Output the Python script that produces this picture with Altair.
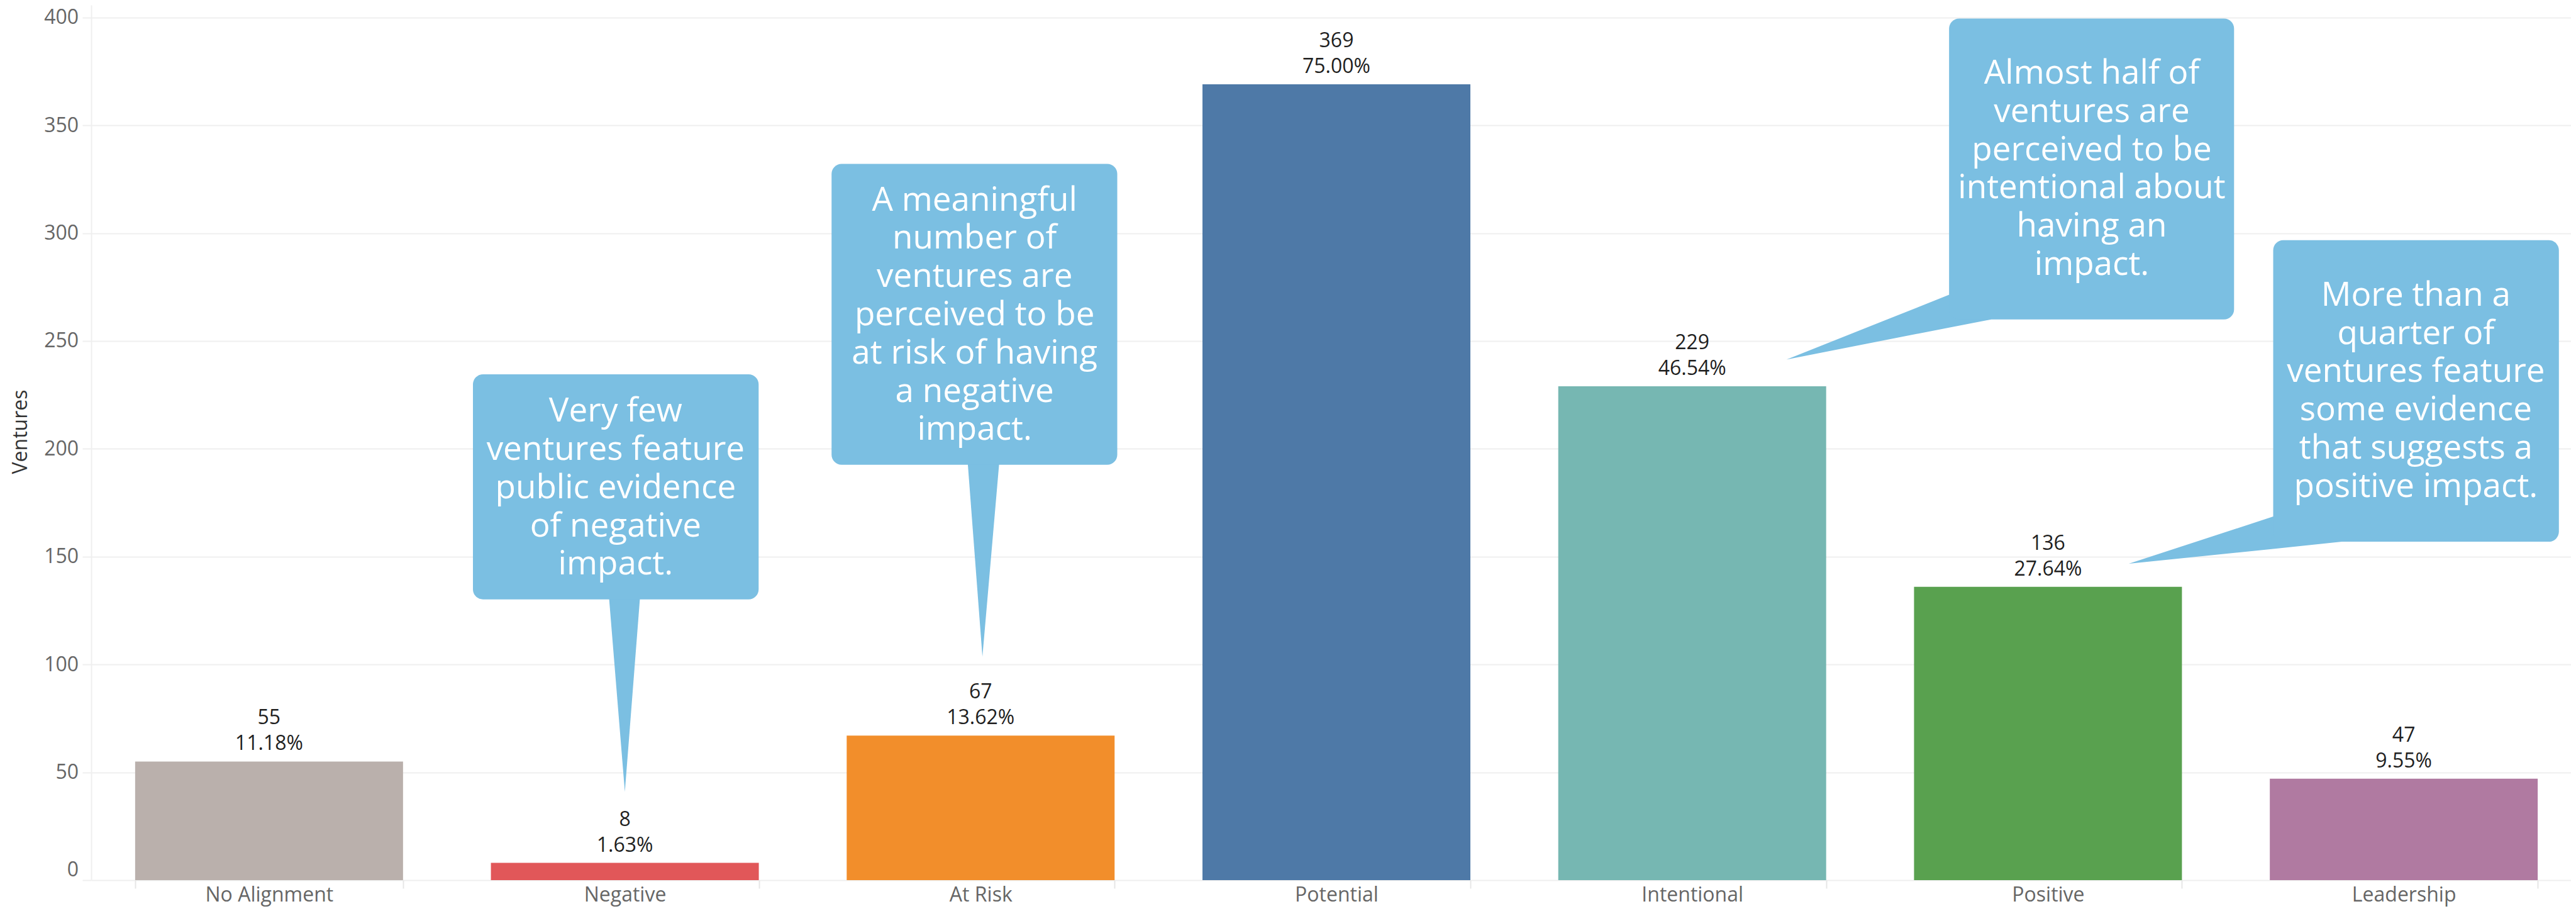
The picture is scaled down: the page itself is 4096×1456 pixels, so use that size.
import altair as alt
import pandas as pd

# ---------------- data ----------------
categories = ["No Alignment", "Negative", "At Risk", "Potential", "Intentional", "Positive", "Leadership"]
ventures = [55, 8, 67, 369, 229, 136, 47]
shares = ["11.18%", "1.63%", "13.62%", "75.00%", "46.54%", "27.64%", "9.55%"]
bar_colors = ["#BAB0AC", "#E15759", "#F28E2B", "#4E79A7", "#76B7B2", "#59A14F", "#B07AA1"]
y_ticks = [0, 50, 100, 150, 200, 250, 300, 350, 400]

# callout annotations (x in category-band units 0..7, y in ventures)
callout_text = [
    "Very few\nventures feature\npublic evidence\nof negative\nimpact.",
    "A meaningful\nnumber of\nventures are\nperceived to be\nat risk of having\na negative\nimpact.",
    "Almost half of\nventures are\nperceived to be\nintentional about\nhaving an\nimpact.",
    "More than a\nquarter of\nventures feature\nsome evidence\nthat suggests a\npositive impact.",
]
box_x = [1.073, 2.081, 5.222, 6.133]
box_x2 = [1.876, 2.884, 6.023, 6.936]
box_y = [130.2, 192.6, 260.0, 156.9]
box_y2 = [234.5, 332.1, 399.5, 296.7]
text_x = [1.474, 2.483, 5.623, 6.534]
text_y = [212.6, 310.5, 369.3, 266.4]

# downward pointers (callouts 1, 2)
vp_id = [0, 0, 1, 1]
vp_y = [132.0, 40.95, 195.0, 103.6]
vp_x = [1.455, 1.500, 2.463, 2.505]
vp_x2 = [1.543, 1.500, 2.553, 2.505]

# slanted pointers (callouts 3, 4)
sp_id = [2, 2, 2, 3, 3, 3]
sp_x = [4.765, 5.222, 5.341, 5.727, 6.133, 6.326]
sp_y = [241.4, 271.4, 260.0, 146.7, 168.6, 156.9]
sp_y2 = [241.4, 256.2, 260.0, 146.7, 153.6, 156.9]

# ---------------- layout ----------------
W = 3943
RANGE = 3960
H = 1391
YMAX = 405.75
FONT = "Open Sans"
GRID = "#efefef"
CALLOUT = "#7BBFE2"

bars_df = pd.DataFrame({"cat": categories, "n": ventures, "pct": shares})
box_df = pd.DataFrame({"x": box_x, "x2": box_x2, "y": box_y, "y2": box_y2,
                       "tx": text_x, "ty": text_y, "t": callout_text})
vp_df = pd.DataFrame({"id": vp_id, "x": vp_x, "x2": vp_x2, "y": vp_y})
sp_df = pd.DataFrame({"id": sp_id, "x": sp_x, "y": sp_y, "y2": sp_y2})

yscale = alt.Scale(domain=[0, YMAX], nice=False, zero=True)
xband = alt.Scale(domain=categories, range=[0, RANGE], paddingInner=0.247, paddingOuter=0.1235)
xq = alt.Scale(domain=[0, 7], range=[0, RANGE], nice=False, zero=False)

x_axis = alt.Axis(
    title=None, labelAngle=0, labelFont=FONT, labelFontSize=32, labelColor="#666666",
    labelBaseline="alphabetic", labelPadding=20, labelLimit=0, domain=False, ticks=True,
    tickBand="extent", tickSize=13, tickColor="#e6e6e6", tickWidth=2, grid=False,
)
y_axis = alt.Axis(
    values=y_ticks, title="Ventures", titleFont=FONT, titleFontSize=32,
    titleFontWeight="normal", titleColor="#333333", titleAngle=270, titleX=-113,
    titleY=678, titleAlign="center", titleBaseline="middle",
    labelFont=FONT, labelFontSize=32, labelColor="#666666", labelPadding=6.4,
    labelBaseline={"condition": {"test": "datum.value === 0", "value": "bottom"}, "value": "middle"},
    grid=True, gridColor=GRID, gridWidth=2, domain=True, domainColor=GRID, domainWidth=2,
    ticks=True, tickColor=GRID, tickSize=14, tickWidth=2,
)

base = alt.Chart(bars_df)
bars = base.mark_bar().encode(
    x=alt.X("cat:N", sort=categories, scale=xband, axis=x_axis),
    y=alt.Y("n:Q", scale=yscale, axis=y_axis),
    color=alt.Color("cat:N", scale=alt.Scale(domain=categories, range=bar_colors), legend=None),
)
pct_text = base.mark_text(font=FONT, fontSize=32, color="#1f1f1f", baseline="alphabetic",
                          align="center", dy=-18).encode(
    x=alt.X("cat:N", sort=categories, scale=xband),
    y=alt.Y("n:Q", scale=yscale),
    text="pct:N",
)
n_text = base.mark_text(font=FONT, fontSize=32, color="#1f1f1f", baseline="alphabetic",
                        align="center", dy=-59).encode(
    x=alt.X("cat:N", sort=categories, scale=xband),
    y=alt.Y("n:Q", scale=yscale),
    text="n:Q",
)
bar_layer = alt.layer(bars, pct_text, n_text)

boxes = alt.Chart(box_df).mark_rect(color=CALLOUT, cornerRadius=16).encode(
    x=alt.X("x:Q", scale=xq, axis=None), x2="x2:Q",
    y=alt.Y("y:Q", scale=yscale), y2="y2:Q",
)
vptr = alt.Chart(vp_df).mark_area(color=CALLOUT, orient="horizontal").encode(
    y=alt.Y("y:Q", scale=yscale),
    x=alt.X("x:Q", scale=xq, axis=None), x2="x2:Q",
    detail="id:N",
)
sptr = alt.Chart(sp_df).mark_area(color=CALLOUT, orient="vertical").encode(
    x=alt.X("x:Q", scale=xq, axis=None),
    y=alt.Y("y:Q", scale=yscale), y2="y2:Q",
    detail="id:N",
)
ctext = alt.Chart(box_df).mark_text(font=FONT, fontSize=53, color="white", align="center",
                                    baseline="alphabetic", lineBreak="\n", lineHeight=60.8).encode(
    x=alt.X("tx:Q", scale=xq, axis=None),
    y=alt.Y("ty:Q", scale=yscale),
    text="t:N",
)
annot_layer = alt.layer(vptr, sptr, boxes, ctext)

chart = alt.layer(bar_layer, annot_layer).resolve_scale(x="independent").properties(
    width=W, height=H,
    autosize=alt.AutoSizeParams(type="none"),
    padding={"left": 137, "top": 0, "right": 0, "bottom": 45},
    background="white",
).configure_view(stroke=None)

chart.save("out.html", embed_options={"renderer": "svg", "actions": False})
